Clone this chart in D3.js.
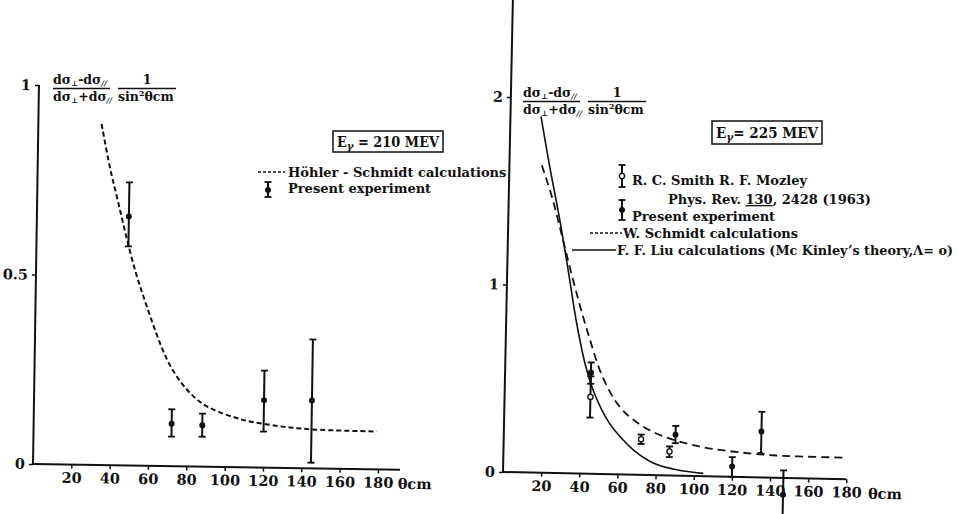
<!DOCTYPE html>
<html>
<head>
<meta charset="utf-8">
<script src="https://cdn.jsdelivr.net/npm/d3@7"></script>
<style>
  body { margin: 0; background: #fff; }
  text { font-family: 'DejaVu Serif', serif; font-weight: bold; fill: #111; }
</style>
</head>
<body>
<svg width="958" height="514"></svg>
<script>
// ---- data ----
// left panel, E = 210 MeV
const leftTicksX = [20, 40, 60, 80, 100, 120, 140, 160, 180];
const leftTicksY = [0, 0.5, 1];
const hsTheta = [33, 37.5, 42, 47, 52, 56, 61, 66, 70, 75, 80, 85, 90, 97, 105, 111, 128, 145, 179];
const hsVal   = [0.90, 0.79, 0.70, 0.60, 0.51, 0.45, 0.38, 0.315, 0.272, 0.232, 0.201, 0.177, 0.160, 0.144, 0.131, 0.123, 0.11, 0.103, 0.10];
const leftExpTheta = [48, 72, 88, 120, 145];
const leftExpVal   = [0.657, 0.112, 0.109, 0.178, 0.179];
const leftExpLo    = [0.578, 0.078, 0.079, 0.095, 0.015];
const leftExpHi    = [0.747, 0.15, 0.14, 0.256, 0.34];

// right panel, E = 225 MeV
const rightTicksX = [20, 40, 60, 80, 100, 120, 140, 160, 180];
const rightTicksY = [0, 1, 2];
const schmidtTheta = [17, 23, 29, 35.5, 43, 51.5, 60.5, 69, 81.5, 102.5, 120, 137.5, 155, 180];
const schmidtVal   = [1.64, 1.46, 1.24, 1.00, 0.75, 0.51, 0.36, 0.284, 0.216, 0.158, 0.135, 0.121, 0.116, 0.115];
const liuTheta = [16, 21, 27, 32, 37, 42, 47, 55, 62.5, 68, 78.6, 91, 105];
const liuVal   = [1.90, 1.64, 1.35, 1.08, 0.80, 0.58, 0.43, 0.275, 0.185, 0.133, 0.065, 0.031, 0.015];
const presTheta = [45, 90, 120, 135, 147];
const presVal   = [0.54, 0.218, 0.055, 0.245, -0.09];
const presLo    = [0.48, 0.173, 0.0, 0.13, -0.23];
const presHi    = [0.594, 0.265, 0.105, 0.35, 0.04];
const smithTheta = [45, 72, 87];
const smithVal   = [0.41, 0.19, 0.128];
const smithLo    = [0.30, 0.165, 0.098];
const smithHi    = [0.52, 0.215, 0.155];

const svg = d3.select('svg');
const ink = '#111';
const tickFont = 14.5;
const legFont = 13;

function errorBars(g, x, y, th, val, lo, hi, open) {
  const pts = d3.range(th.length).map(i => ({t: th[i], v: val[i], lo: lo[i], hi: hi[i]}));
  const eb = g.selectAll(null).data(pts).enter().append('g');
  eb.append('line')
    .attr('x1', d => x(d.t)).attr('x2', d => x(d.t))
    .attr('y1', d => y(d.lo)).attr('y2', d => y(d.hi))
    .attr('stroke', ink).attr('stroke-width', 2);
  ['lo', 'hi'].forEach(k => {
    eb.append('line')
      .attr('x1', d => x(d.t) - 3.5).attr('x2', d => x(d.t) + 3.5)
      .attr('y1', d => y(d[k])).attr('y2', d => y(d[k]))
      .attr('stroke', ink).attr('stroke-width', 1.8);
  });
  eb.append('circle')
    .attr('cx', d => x(d.t)).attr('cy', d => y(d.v))
    .attr('r', open ? 2.6 : 3)
    .attr('fill', open ? '#fff' : ink)
    .attr('stroke', ink).attr('stroke-width', open ? 1.4 : 0);
}

function bottomAxis(g, x, ticks, lineEnd) {
  g.append('line').attr('x1', 0).attr('x2', lineEnd).attr('y1', 0).attr('y2', 0)
    .attr('stroke', ink).attr('stroke-width', 2);
  const ax = g.append('g')
    .call(d3.axisBottom(x).tickValues(ticks).tickSize(4).tickPadding(4));
  ax.select('.domain').remove();
  ax.selectAll('.tick line').attr('stroke', ink).attr('stroke-width', 1.5);
  ax.selectAll('text').attr('font-size', tickFont).attr('font-family', 'DejaVu Serif')
    .attr('font-weight', 'bold').attr('fill', ink);
}

function leftAxis(g, y, ticks, lineTop, fmt) {
  g.append('line').attr('x1', 0).attr('x2', 0).attr('y1', 0).attr('y2', lineTop)
    .attr('stroke', ink).attr('stroke-width', 2);
  const ax = g.append('g')
    .call(d3.axisLeft(y).tickValues(ticks).tickSize(4).tickPadding(4).tickFormat(fmt));
  ax.select('.domain').remove();
  ax.selectAll('.tick line').attr('stroke', ink).attr('stroke-width', 1.5);
  ax.selectAll('text').attr('font-size', tickFont).attr('font-family', 'DejaVu Serif')
    .attr('font-weight', 'bold').attr('fill', ink);
}

// ================= left panel =================
const xL = d3.scaleLinear().domain([0, 180]).range([0, 345]);
const yL = d3.scaleLinear().domain([0, 1]).range([0, -379]);
const gL = svg.append('g').attr('transform', 'translate(33,464) rotate(0.9)');

bottomAxis(gL, xL, leftTicksX, 367);
leftAxis(gL, yL, leftTicksY, yL(1), d => d === 0.5 ? '0.5' : d);
gL.append('text').attr('x', xL(180) + 20).attr('y', 19).attr('font-size', tickFont).text('θcm');

const lineL = d3.line().x(d => xL(d[0])).y(d => yL(d[1])).curve(d3.curveCatmullRom.alpha(0.5));
gL.append('path').datum(d3.zip(hsTheta, hsVal)).attr('d', lineL)
  .attr('fill', 'none').attr('stroke', ink).attr('stroke-width', 2)
  .attr('stroke-dasharray', '5,3');
errorBars(gL, xL, yL, leftExpTheta, leftExpVal, leftExpLo, leftExpHi, false);

// ================= right panel =================
const xR = d3.scaleLinear().domain([0, 180]).range([0, 343.4]);
const yR = d3.scaleLinear().domain([0, 2]).range([0, -375]);
const gR = svg.append('g').attr('transform', 'translate(503,472) rotate(1.2)');

bottomAxis(gR, xR, rightTicksX, xR(180));
leftAxis(gR, yR, rightTicksY, -485, d => d);
gR.append('text').attr('x', xR(180) + 22).attr('y', 19).attr('font-size', tickFont).text('θcm');

const lineR = d3.line().x(d => xR(d[0])).y(d => yR(d[1])).curve(d3.curveCatmullRom.alpha(0.5));
gR.append('path').datum(d3.zip(schmidtTheta, schmidtVal)).attr('d', lineR)
  .attr('fill', 'none').attr('stroke', ink).attr('stroke-width', 1.8)
  .attr('stroke-dasharray', '8,5');
gR.append('path').datum(d3.zip(liuTheta, liuVal)).attr('d', lineR)
  .attr('fill', 'none').attr('stroke', ink).attr('stroke-width', 1.6);
errorBars(gR, xR, yR, presTheta, presVal, presLo, presHi, false);
errorBars(gR, xR, yR, smithTheta, smithVal, smithLo, smithHi, true);

// ================= y-labels (fractions) =================
function yLabel(x0, yNum) {
  const g = svg.append('g').attr('transform', `translate(${x0},${yNum})`);
  const part = (t, sign) => {
    t.append('tspan').text('dσ');
    t.append('tspan').attr('font-size', 7.5).attr('dy', 2).text('⊥');
    t.append('tspan').attr('dy', -2).text(sign + 'dσ');
    t.append('tspan').attr('font-size', 7.5).attr('dy', 2).attr('font-style', 'italic').text('//');
  };
  part(g.append('text').attr('x', 0).attr('y', 0).attr('font-size', 12.5), '-');
  g.append('line').attr('x1', 0).attr('x2', 57).attr('y1', 4.5).attr('y2', 4.5)
    .attr('stroke', ink).attr('stroke-width', 1.3);
  part(g.append('text').attr('x', 0).attr('y', 17).attr('font-size', 12.5), '+');
  g.append('text').attr('x', 94).attr('y', 0).attr('text-anchor', 'middle')
    .attr('font-size', 12.5).text('1');
  g.append('line').attr('x1', 65).attr('x2', 123).attr('y1', 4.5).attr('y2', 4.5)
    .attr('stroke', ink).attr('stroke-width', 1.3);
  const s = g.append('text').attr('x', 65).attr('y', 17).attr('font-size', 12.5);
  s.append('tspan').text('sin');
  s.append('tspan').attr('font-size', 8).attr('dy', -5).text('2');
  s.append('tspan').attr('dy', 5).text('θcm');
}
yLabel(53, 84);
yLabel(523, 97);

// ================= legends =================
function energyBox(x, y, w, h, label, val) {
  svg.append('rect').attr('x', x).attr('y', y).attr('width', w).attr('height', h)
    .attr('fill', 'none').attr('stroke', ink).attr('stroke-width', 1.5);
  const t = svg.append('text').attr('x', x + 4).attr('y', y + h / 2 + 5).attr('font-size', 14)
    .attr('textLength', w - 8).attr('lengthAdjust', 'spacingAndGlyphs');
  t.append('tspan').text('E');
  t.append('tspan').attr('font-size', 11).attr('dy', 3).attr('font-style', 'italic').text('γ');
  t.append('tspan').attr('dy', -3).text(label + val);
}
energyBox(333, 131, 110, 21, ' = ', '210 MEV');
energyBox(712, 121, 110, 23, '= ', '225 MEV');

// left legend
svg.append('line').attr('x1', 258).attr('x2', 285).attr('y1', 172).attr('y2', 172)
  .attr('stroke', ink).attr('stroke-width', 1.3).attr('stroke-dasharray', '3,2');
svg.append('text').attr('x', 288).attr('y', 177).attr('font-size', legFont)
  .text('Höhler - Schmidt calculations');
errorBars(svg, d => 268, d => d, [0], [190], [197], [182], false);
svg.append('text').attr('x', 288).attr('y', 193).attr('font-size', legFont)
  .text('Present experiment');

// right legend
errorBars(svg, d => 622, d => d, [0], [176], [187], [165], true);
svg.append('text').attr('x', 632).attr('y', 185).attr('font-size', legFont)
  .text('R. C. Smith R. F. Mozley');
const ref = svg.append('text').attr('x', 668).attr('y', 204).attr('font-size', legFont);
ref.append('tspan').text('Phys. Rev. ');
ref.append('tspan').attr('text-decoration', 'underline').text('130');
ref.append('tspan').text(', 2428 (1963)');
errorBars(svg, d => 622, d => d, [0], [210], [220], [200], false);
svg.append('text').attr('x', 632).attr('y', 221).attr('font-size', legFont)
  .text('Present experiment');
svg.append('line').attr('x1', 590).attr('x2', 622).attr('y1', 233).attr('y2', 233)
  .attr('stroke', ink).attr('stroke-width', 1.3).attr('stroke-dasharray', '3,2');
svg.append('text').attr('x', 623).attr('y', 238).attr('font-size', legFont)
  .text('W. Schmidt calculations');
svg.append('line').attr('x1', 572).attr('x2', 616).attr('y1', 250).attr('y2', 250)
  .attr('stroke', ink).attr('stroke-width', 1.6);
svg.append('text').attr('x', 617).attr('y', 255).attr('font-size', legFont)
  .attr('textLength', 336).attr('lengthAdjust', 'spacingAndGlyphs')
  .text('F. F. Liu calculations (Mc Kinley\u2019s theory,Λ= o)');
</script>
</body>
</html>
